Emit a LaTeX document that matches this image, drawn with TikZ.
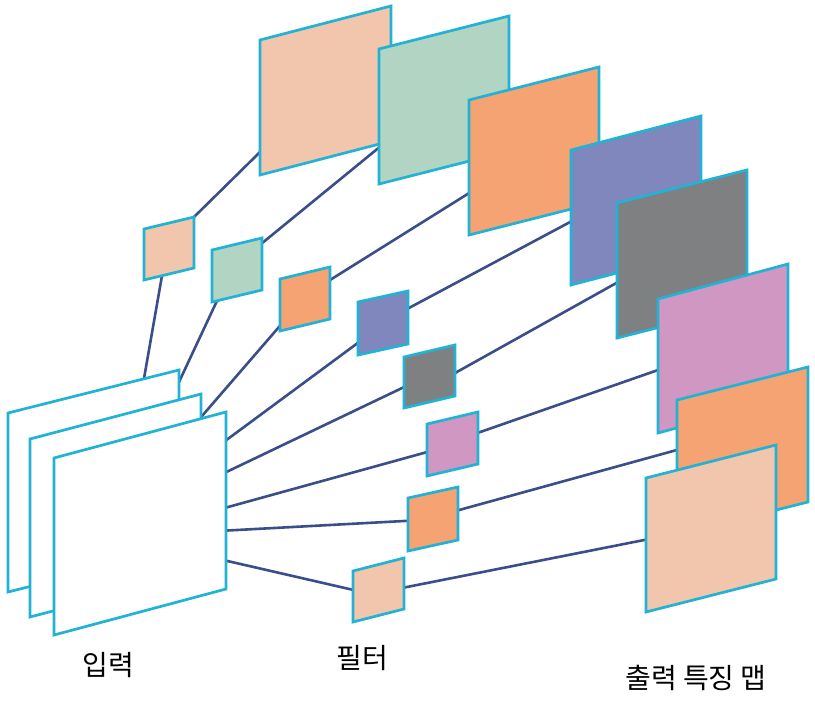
\documentclass[tikz,border=0pt]{standalone}
\usepackage{fontspec}
\newfontfamily\kr{Noto Sans CJK KR}
\usetikzlibrary{calc}
\definecolor{bord}{HTML}{22B2D5}
\definecolor{wire}{HTML}{3A4E8A}
\definecolor{cpeach}{HTML}{F2C5AD}
\definecolor{csage}{HTML}{B2D5C3}
\definecolor{corange}{HTML}{F5A372}
\definecolor{cblue}{HTML}{7F87BC}
\definecolor{cgray}{HTML}{7F8081}
\definecolor{cpink}{HTML}{D097C3}
\newcommand\pgram[6]{% name, x, y, w, h, skew
  \coordinate (#1-tl) at (#2,#3);
  \coordinate (#1-tr) at ({#2+#4},{#3-#6});
  \coordinate (#1-br) at ({#2+#4},{#3-#6+#5});
  \coordinate (#1-bl) at (#2,{#3+#5});
}
\newcommand\panel[2]{%
  \filldraw[panelstyle, fill=#2] (#1-tl) -- (#1-tr) -- (#1-br) -- (#1-bl) -- cycle;
}
\tikzset{
  panelstyle/.style={draw=bord, line width=2.7pt, line join=miter},
  wirestyle/.style={draw=wire, line width=2.6pt},
  labelstyle/.style={font=\kr\fontsize{28}{34}\selectfont, text=black, inner sep=0pt}
}
\begin{document}
\begin{tikzpicture}[x=1pt,y=-1pt]
\useasboundingbox[fill=white] (0,0) rectangle (815,707);
% inputs
\pgram{ina}{8}{413}{171}{179}{43}
\pgram{inb}{30}{439}{171}{178}{45}
\pgram{inc}{54}{458}{172}{177}{46}
% filters
\pgram{f1}{144}{229}{50}{51}{12}
\pgram{f2}{212}{250}{50}{52}{12}
\pgram{f3}{280}{279}{50}{52}{12}
\pgram{f4}{358}{302}{50}{53}{11}
\pgram{f5}{404}{357}{51}{51}{12}
\pgram{f6}{427}{424}{51}{52}{12}
\pgram{f7}{408}{498}{50}{53}{11}
\pgram{f8}{353}{571}{51}{51}{13}
% outputs
\pgram{o1}{260}{40}{131}{135}{34}
\pgram{o2}{379}{49}{130}{135}{33}
\pgram{o3}{469}{100}{130}{135}{33}
\pgram{o4}{571}{150}{130}{135}{34}
\pgram{o5}{617}{203}{130}{135}{33}
\pgram{o6}{658}{299}{130}{134}{35}
\pgram{o7}{677}{400}{131}{135}{33}
\pgram{o8}{646}{478}{130}{134}{33}
% wires input -> filters
\draw[wirestyle] ($(ina-tl)!0.795!(ina-tr)$) -- ($(f1-bl)!0.36!(f1-br)$);
\draw[wirestyle] ($(ina-tr)!0.067!(ina-br)$) -- ($(f2-bl)!0.1!(f2-br)$);
\draw[wirestyle] ($(inb-tr)!0.13!(inb-br)$) -- ($(f3-tl)!0.9!(f3-bl)$);
\draw[wirestyle] ($(inc-tr)!0.16!(inc-br)$) -- ($(f4-tl)!0.77!(f4-bl)$);
\draw[wirestyle] ($(inc-tr)!0.34!(inc-br)$) -- ($(f5-tl)!0.59!(f5-bl)$);
\draw[wirestyle] ($(inc-tr)!0.54!(inc-br)$) -- ($(f6-tl)!0.54!(f6-bl)$);
\draw[wirestyle] ($(inc-tr)!0.67!(inc-br)$) -- ($(f7-tl)!0.43!(f7-bl)$);
\draw[wirestyle] ($(inc-tr)!0.84!(inc-br)$) -- ($(f8-tl)!0.37!(f8-bl)$);
% wires filters -> outputs
\draw[wirestyle] (f1-tr) -- ($(o1-tl)!0.83!(o1-bl)$);
\draw[wirestyle] ($(f2-tr)!0.1!(f2-br)$) -- ($(o2-tl)!0.73!(o2-bl)$);
\draw[wirestyle] ($(f3-tr)!0.25!(f3-br)$) -- ($(o3-tl)!0.69!(o3-bl)$);
\draw[wirestyle] ($(f4-tr)!0.33!(f4-br)$) -- ($(o4-tl)!0.53!(o4-bl)$);
\draw[wirestyle] ($(f5-tr)!0.55!(f5-br)$) -- ($(o5-tl)!0.59!(o5-bl)$);
\draw[wirestyle] ($(f6-tr)!0.4!(f6-br)$) -- ($(o6-tl)!0.53!(o6-bl)$);
\draw[wirestyle] ($(f7-tr)!0.44!(f7-br)$) -- ($(o7-tl)!0.37!(o7-bl)$);
\draw[wirestyle] ($(f8-tr)!0.58!(f8-br)$) -- ($(o8-tl)!0.46!(o8-bl)$);
% panels
\panel{ina}{white}
\panel{inb}{white}
\panel{inc}{white}
\panel{f1}{cpeach}
\panel{f2}{csage}
\panel{f3}{corange}
\panel{f4}{cblue}
\panel{f5}{cgray}
\panel{f6}{cpink}
\panel{f7}{corange}
\panel{f8}{cpeach}
\panel{o1}{cpeach}
\panel{o2}{csage}
\panel{o3}{corange}
\panel{o4}{cblue}
\panel{o5}{cgray}
\panel{o6}{cpink}
\panel{o7}{corange}
\panel{o8}{cpeach}
% labels
\node[labelstyle] (lin) at (108,665) {입력};
\node[labelstyle] (lf) at (362,658) {필터};
\node[labelstyle] (lout) at (696,678) {출력 특징 맵};
\end{tikzpicture}
\end{document}
